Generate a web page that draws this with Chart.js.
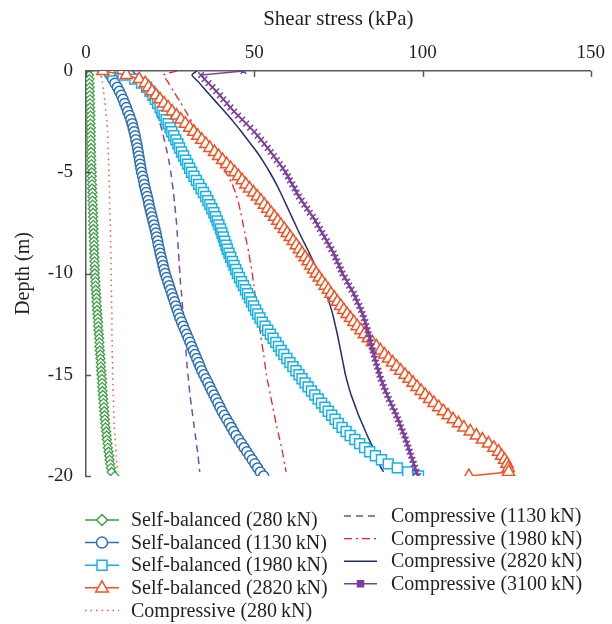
<!DOCTYPE html>
<html lang="en">
<head>
<meta charset="UTF-8">
<title>Shear stress vs depth</title>
<style>
  body { margin: 0; background: #fff; }
</style>
</head>
<body>
<canvas id="mychart" width="612" height="624"></canvas>
<script src="https://cdn.jsdelivr.net/npm/chart.js"></script>
<script>
// depths (m): 0.2 m steps for the marker series, coarser for the plain lines
const depthFine = [0,-0.2,-0.4,-0.6,-0.8,-1,-1.2,-1.4,-1.6,-1.8,
  -2,-2.2,-2.4,-2.6,-2.8,-3,-3.2,-3.4,-3.6,-3.8,
  -4,-4.2,-4.4,-4.6,-4.8,-5,-5.2,-5.4,-5.6,-5.8,
  -6,-6.2,-6.4,-6.6,-6.8,-7,-7.2,-7.4,-7.6,-7.8,
  -8,-8.2,-8.4,-8.6,-8.8,-9,-9.2,-9.4,-9.6,-9.8,
  -10,-10.2,-10.4,-10.6,-10.8,-11,-11.2,-11.4,-11.6,-11.8,
  -12,-12.2,-12.4,-12.6,-12.8,-13,-13.2,-13.4,-13.6,-13.8,
  -14,-14.2,-14.4,-14.6,-14.8,-15,-15.2,-15.4,-15.6,-15.8,
  -16,-16.2,-16.4,-16.6,-16.8,-17,-17.2,-17.4,-17.6,-17.8,
  -18,-18.2,-18.4,-18.6,-18.8,-19,-19.2,-19.4,-19.6,-19.8,
  -20];
const depthLine = [0,-0.2,-0.5,-1,-1.5,-2,-2.5,-3,-3.5,-4,-4.5,-5,-5.5,-6,-6.5,-7,-7.5,-8,-8.5,-9,-9.5,-10,
  -10.5,-11,-11.5,-12,-12.5,-13,-13.5,-14,-14.5,-15,-15.5,-16,-16.5,-17,-17.5,-18,-18.5,-19,-19.5,-19.8];

// self-balanced tests, shear stress (kPa) at depthFine
const sb280 = [0.6,0.9,1.0,1.0,1.1,1.1,1.1,1.2,1.2,1.2,
  1.3,1.3,1.3,1.3,1.4,1.4,1.4,1.4,1.5,1.5,
  1.5,1.5,1.6,1.6,1.6,1.7,1.7,1.7,1.8,1.8,
  1.9,1.9,1.9,2.0,2.0,2.1,2.1,2.1,2.2,2.2,
  2.2,2.3,2.3,2.4,2.4,2.4,2.5,2.5,2.6,2.6,
  2.6,2.7,2.8,2.8,2.9,3.0,3.1,3.1,3.2,3.3,
  3.4,3.5,3.6,3.6,3.7,3.8,3.9,4.0,4.0,4.1,
  4.2,4.3,4.4,4.4,4.5,4.6,4.7,4.8,4.8,4.9,
  5.0,5.1,5.2,5.3,5.4,5.5,5.6,5.7,5.8,6.0,
  6.1,6.2,6.4,6.5,6.7,6.9,7.0,7.2,7.4,7.6,
  8.5];
const sb1130 = [6.5,7.2,7.9,8.6,9.3,9.9,10.5,11.0,11.5,12.0,
  12.4,12.9,13.3,13.7,14.0,14.3,14.6,14.8,15.1,15.3,
  15.5,15.7,15.9,16.1,16.3,16.5,16.8,17.1,17.3,17.6,
  17.9,18.2,18.5,18.7,19.0,19.3,19.6,19.9,20.2,20.5,
  20.8,21.0,21.3,21.5,21.8,22.0,22.3,22.6,22.9,23.2,
  23.5,23.9,24.3,24.7,25.1,25.5,25.9,26.3,26.7,27.1,
  27.5,27.9,28.4,28.9,29.4,29.9,30.4,30.9,31.4,31.9,
  32.4,32.9,33.4,33.9,34.4,35.0,35.6,36.2,36.8,37.4,
  38.0,38.6,39.2,39.8,40.4,41.1,41.8,42.5,43.2,43.9,
  44.6,45.4,46.2,47.0,47.8,48.6,49.4,50.2,51.0,51.8,
  52.8];
const sb1980 = [7,11,14.5,16.5,18,19,19.9,20.6,21.3,22.0,
  22.6,23.2,23.8,24.4,25.0,25.5,26.1,26.7,27.3,27.8,
  28.4,29.0,29.6,30.2,30.8,31.4,32.1,32.8,33.5,34.2,
  34.9,35.6,36.2,36.8,37.4,38.0,38.5,39.0,39.5,40.0,
  40.4,40.8,41.2,41.6,42.0,42.5,43.0,43.5,44.0,44.5,
  45.0,45.6,46.2,46.8,47.4,48.0,48.6,49.2,49.8,50.4,
  51.0,51.7,52.4,53.2,54.0,54.8,55.6,56.4,57.2,58.0,
  58.8,59.7,60.6,61.5,62.4,63.3,64.2,65.1,66.0,67.0,
  68.0,69.0,70.0,71.0,72.0,73.0,74.0,75.0,76.1,77.3,
  78.5,79.9,81.3,82.8,84.3,86.0,87.8,89.8,92.5,95.6,
  98.8];
const sb2820 = [5,12,15.8,17.6,18.6,19.6,20.8,22.0,23.2,24.4,
  25.6,26.9,28.2,29.5,30.8,32.0,33.2,34.4,35.6,36.8,
  38.2,39.4,40.6,41.8,43.0,44.2,45.3,46.4,47.5,48.6,
  49.8,50.9,52.0,53.0,54.0,55.0,56.0,57.0,57.9,58.9,
  59.8,60.7,61.6,62.5,63.4,64.2,65.1,66.0,66.8,67.6,
  68.4,69.3,70.2,71.1,72.0,72.8,73.8,74.7,75.7,76.6,
  77.6,78.6,79.6,80.6,81.7,82.7,83.9,85.1,86.3,87.5,
  88.7,89.9,91.1,92.3,93.5,94.8,96.0,97.2,98.4,99.6,
  100.8,102.1,103.4,104.8,106.2,107.6,109.1,110.7,112.3,114.2,
  116.0,117.8,119.6,121.2,122.6,123.5,124.4,125.1,125.5,125.6,
  113.8];
// compressive test (3100 kN) carries markers too, so it uses depthFine
const c3100 = [46.8,34.2,35.2,36.4,37.6,38.7,39.8,40.8,41.9,42.9,
  44.0,45.2,46.4,47.6,48.8,50.0,51.0,52.0,53.0,54.0,
  54.9,55.8,56.7,57.6,58.5,59.3,60.0,60.6,61.3,62.0,
  62.6,63.3,64.1,64.9,65.7,66.5,67.4,68.2,68.8,69.5,
  70.2,70.9,71.6,72.2,72.9,73.6,74.1,74.6,75.2,75.7,
  76.2,76.9,77.6,78.2,78.9,79.6,80.1,80.6,81.2,81.7,
  82.2,82.6,83.0,83.3,83.7,84.0,84.3,84.6,84.9,85.2,
  85.5,85.8,86.2,86.5,86.9,87.2,87.6,88.1,88.5,89.0,
  89.5,90.0,90.6,91.1,91.7,92.2,92.7,93.2,93.6,94.1,
  94.6,95.0,95.4,95.8,96.2,96.6,97.0,97.4,97.8,98.2,
  98.7];

// compressive tests, shear stress (kPa) at depthLine
const c280 = [4.1,4.4,4.8,5.2,5.6,5.9,6.2,6.4,6.5,6.6,6.7,6.8,6.9,7.0,7.0,7.1,7.2,7.3,7.3,7.4,7.4,7.5,
  7.5,7.6,7.6,7.7,7.7,7.7,7.8,7.8,7.9,7.9,8.0,8.1,8.2,8.3,8.4,8.6,8.8,9.0,9.2,9.6];
const c1130 = [13.8,15,16.5,18.2,19.6,20.8,21.8,22.7,23.4,24.1,24.7,25.2,25.6,26,26.3,26.6,26.9,27.1,27.3,27.5,27.7,27.9,
  28.1,28.4,28.6,28.9,29.1,29.4,29.6,29.8,30,30.3,30.6,30.9,31.3,31.7,32.1,32.5,32.9,33.3,33.6,33.8];
const c1980 = [27,23,24.2,26,27.9,29.7,31.5,33.3,35.3,37.4,39.5,41.5,43.2,44.4,45.3,46,46.6,47.2,47.8,48.4,48.9,49.4,
  49.8,50.2,50.6,51,51.4,51.9,52.3,52.8,53.2,53.6,54.2,54.8,55.4,56,56.6,57.3,58,58.6,59.1,59.5];
const c2820 = [33,31.5,33.2,35.8,38.5,41.2,43.8,46.2,48.5,50.8,52.8,54.6,56.3,57.8,59.2,60.6,62,63.4,64.9,66.4,67.8,69.1,
  70.3,71.4,72.4,73.3,74,74.7,75.3,75.9,76.5,77.1,77.9,78.8,79.9,81,82.3,83.6,85,86.2,87.4,88.4];

const xTicks = [0, 50, 100, 150];
const yTicks = [0, -5, -10, -15, -20];

const FONT = "'Liberation Serif', 'DejaVu Serif', serif";
const TEXT = '#231f20';
const AXIS = '#5a5a5a';

function pts(depths, vals) {
  return vals.map((v, i) => ({ x: v, y: depths[i] }));
}

const datasets = [
  { label: 'Compressive (3100\u2009kN)', data: pts(depthFine, c3100), borderColor: '#7a3f9d', backgroundColor: '#7a3f9d',
    borderWidth: 1.5, pointStyle: 'crossRot', pointRadius: 4, pointBorderWidth: 1.5, order: 0, col: 1, row: 3 },
  { label: 'Self-balanced (2820\u2009kN)', data: pts(depthFine, sb2820), borderColor: '#f05323', backgroundColor: '#ffffff',
    borderWidth: 1.5, pointStyle: 'triangle', pointRadius: 7, pointBorderWidth: 1.5, order: 1, col: 0, row: 3 },
  { label: 'Self-balanced (1980\u2009kN)', data: pts(depthFine, sb1980), borderColor: '#17b0e6', backgroundColor: '#ffffff',
    borderWidth: 1.5, pointStyle: 'rect', pointRadius: 7, pointBorderWidth: 1.5, order: 2, col: 0, row: 2 },
  { label: 'Self-balanced (1130\u2009kN)', data: pts(depthFine, sb1130), borderColor: '#2c6fb7', backgroundColor: '#ffffff',
    borderWidth: 1.5, pointStyle: 'circle', pointRadius: 5, pointBorderWidth: 1.5, order: 3, col: 0, row: 1 },
  { label: 'Self-balanced (280\u2009kN)', data: pts(depthFine, sb280), borderColor: '#3f9f45', backgroundColor: '#ffffff',
    borderWidth: 1.5, pointStyle: 'rectRot', pointRadius: 4.5, pointBorderWidth: 1.3, order: 4, col: 0, row: 0 },
  { label: 'Compressive (2820\u2009kN)', data: pts(depthLine, c2820), borderColor: '#1f2d6b',
    borderWidth: 1.5, pointRadius: 0, tension: 0.25, order: 5, col: 1, row: 2 },
  { label: 'Compressive (1980\u2009kN)', data: pts(depthLine, c1980), borderColor: '#ed2224',
    borderWidth: 1.3, borderDash: [8, 4, 2, 4], pointRadius: 0, tension: 0.25, order: 6, col: 1, row: 1 },
  { label: 'Compressive (1130\u2009kN)', data: pts(depthLine, c1130), borderColor: '#7f4aa8',
    borderWidth: 1.5, borderDash: [7, 5], pointRadius: 0, tension: 0.25, order: 7, col: 1, row: 0 },
  { label: 'Compressive (280\u2009kN)', data: pts(depthLine, c280), borderColor: '#f05a3a',
    borderWidth: 1.5, borderDash: [1.5, 4], pointRadius: 0, tension: 0.25, order: 8, col: 0, row: 4 }
];
datasets.forEach(d => { d.showLine = true; d.pointBackgroundColor = d.backgroundColor || '#fff'; });

// inward tick marks on both axes
const innerTicks = {
  id: 'innerTicks',
  afterDraw(chart) {
    const ctx = chart.ctx, xs = chart.scales.x, ys = chart.scales.y;
    ctx.save();
    ctx.strokeStyle = AXIS;
    ctx.lineWidth = 1.5;
    xTicks.forEach(v => {
      const px = Math.round(xs.getPixelForValue(v)) + 0.5;
      ctx.beginPath(); ctx.moveTo(px, ys.top); ctx.lineTo(px, ys.top + 6); ctx.stroke();
    });
    yTicks.forEach(v => {
      const py = Math.round(ys.getPixelForValue(v)) + 0.5;
      ctx.beginPath(); ctx.moveTo(xs.left, py); ctx.lineTo(xs.left + 5, py); ctx.stroke();
    });
    ctx.restore();
  }
};

function drawMarker(ctx, style, x, y, r, color) {
  ctx.save();
  ctx.strokeStyle = color;
  ctx.fillStyle = '#ffffff';
  ctx.lineWidth = 1.5;
  ctx.beginPath();
  if (style === 'circle') {
    ctx.arc(x, y, r, 0, Math.PI * 2);
  } else if (style === 'rect') {
    ctx.rect(x - r * 0.9, y - r * 0.9, r * 1.8, r * 1.8);
  } else if (style === 'rectRot') {
    ctx.moveTo(x, y - r); ctx.lineTo(x + r, y); ctx.lineTo(x, y + r); ctx.lineTo(x - r, y); ctx.closePath();
  } else if (style === 'triangle') {
    ctx.moveTo(x, y - r); ctx.lineTo(x + r * 0.9, y + r * 0.6); ctx.lineTo(x - r * 0.9, y + r * 0.6); ctx.closePath();
  } else if (style === 'crossRot') {
    ctx.fillStyle = color;
    ctx.rect(x - 3, y - 3, 6, 6);
  }
  ctx.fill();
  ctx.stroke();
  ctx.restore();
}

// two column legend under the plot
const sideLegend = {
  id: 'sideLegend',
  afterDraw(chart) {
    const ctx = chart.ctx;
    const cols = [
      { x0: 85, x1: 119, tx: 131, y0: 520, dy: 22.6 },
      { x0: 344, x1: 377, tx: 391, y0: 516, dy: 22.6 }
    ];
    ctx.save();
    ctx.font = '20px ' + FONT;
    ctx.textBaseline = 'middle';
    chart.data.datasets.forEach(ds => {
      const c = cols[ds.col];
      const y = c.y0 + ds.row * c.dy;
      ctx.save();
      ctx.strokeStyle = ds.borderColor;
      ctx.lineWidth = ds.borderWidth;
      ctx.setLineDash(ds.borderDash || []);
      ctx.beginPath(); ctx.moveTo(c.x0, y); ctx.lineTo(c.x1, y); ctx.stroke();
      ctx.restore();
      if (ds.pointRadius > 0) {
        const r = ds.pointStyle === 'triangle' ? 7 : 5.5;
        drawMarker(ctx, ds.pointStyle, (c.x0 + c.x1) / 2, y, r, ds.borderColor);
      }
      ctx.fillStyle = TEXT;
      ctx.fillText(ds.label, c.tx, y + 1);
    });
    ctx.restore();
  }
};

new Chart(document.getElementById('mychart').getContext('2d'), {
  type: 'scatter',
  data: { datasets: datasets },
  options: {
    responsive: false,
    animation: false,
    layout: { padding: { left: 0, top: 0, right: 16, bottom: 148 } },
    plugins: { legend: { display: false }, tooltip: { enabled: false } },
    scales: {
      x: {
        type: 'linear', position: 'top', min: 0, max: 150,
        afterFit(scale) { scale.height = 71; },
        afterBuildTicks(scale) { scale.ticks = xTicks.map(v => ({ value: v })); },
        grid: { display: false, drawTicks: false },
        border: { display: true, color: AXIS, width: 1.5 },
        ticks: { color: TEXT, font: { family: FONT, size: 19 }, padding: 7 },
        title: { display: true, text: 'Shear stress (kPa)', color: TEXT,
          font: { family: FONT, size: 21 }, padding: { top: 7, bottom: 0 } }
      },
      y: {
        type: 'linear', min: -20, max: 0,
        afterFit(scale) { scale.width = 86; },
        afterBuildTicks(scale) { scale.ticks = yTicks.map(v => ({ value: v })); },
        grid: { display: false, drawTicks: false },
        border: { display: true, color: AXIS, width: 1.5 },
        ticks: { color: TEXT, font: { family: FONT, size: 19 }, padding: 13 },
        title: { display: true, text: 'Depth (m)', color: TEXT,
          font: { family: FONT, size: 20 }, padding: { top: 12, bottom: 0 } }
      }
    }
  },
  plugins: [innerTicks, sideLegend]
});
</script>
</body>
</html>
